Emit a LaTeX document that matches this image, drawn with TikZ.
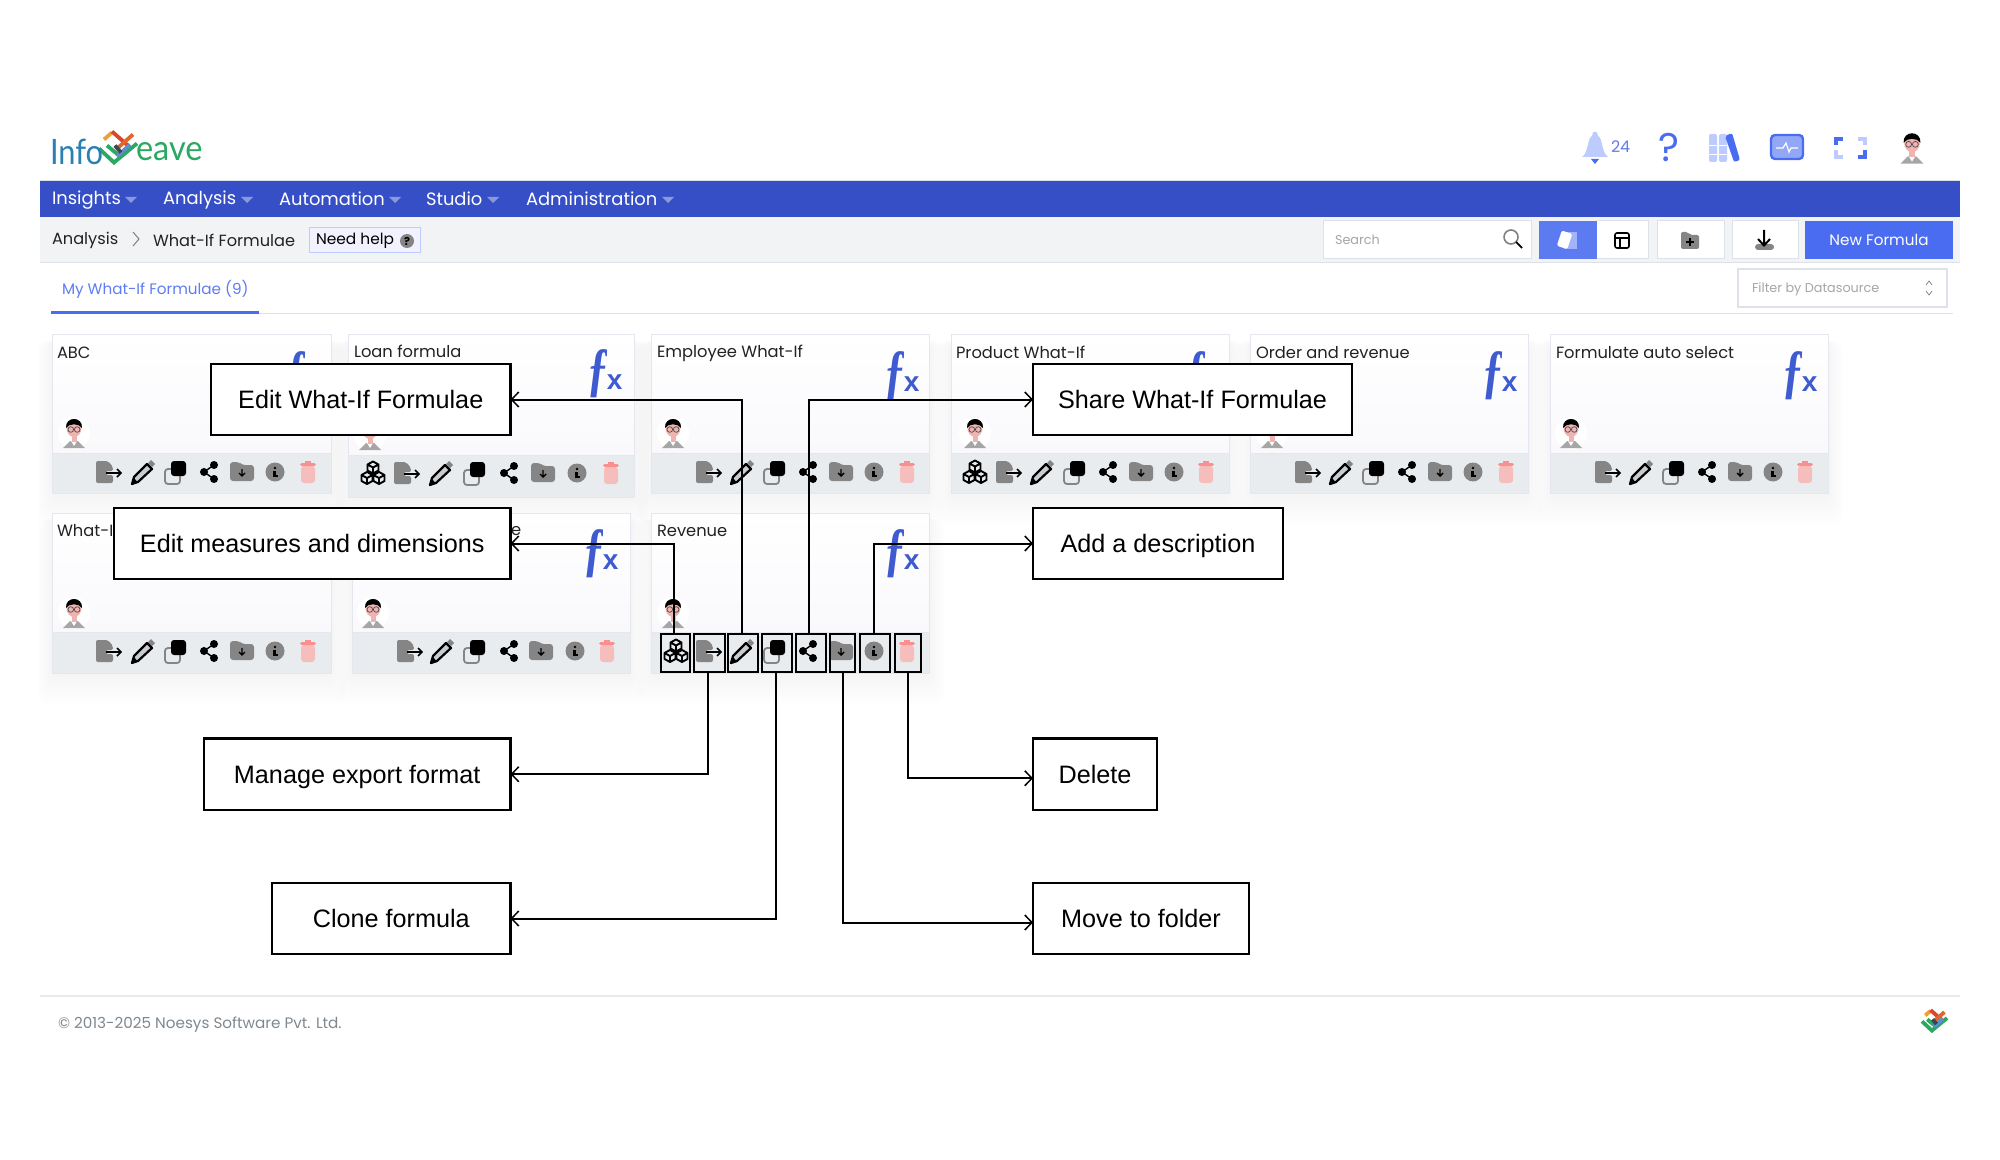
\documentclass[tikz,border=0pt]{standalone}
\usepackage{fontspec}
\setmainfont{Poppins}
\newfontfamily\callfont{Liberation Sans}
\newfontfamily\logofont{Lato}
\newfontfamily\fxserif{Liberation Serif}[ItalicFont={Liberation Serif Italic}]
\newfontfamily\fxsans{Liberation Sans}
\usetikzlibrary{arrows.meta}
\definecolor{navblue}{HTML}{364FC7}
\definecolor{caret}{HTML}{8A9AD8}
\definecolor{subbar}{HTML}{F1F3F5}
\definecolor{linegrey}{HTML}{DDE2EA}
\definecolor{brand}{HTML}{4A6CF0}
\definecolor{tabtext}{HTML}{5F7CF2}
\definecolor{brandlight}{HTML}{BDCBFF}
\definecolor{inktext}{HTML}{222222}
\definecolor{icongrey}{HTML}{858585}
\definecolor{footgrey}{HTML}{7F8890}
\definecolor{cardfoot}{HTML}{E9ECEF}
\definecolor{cardlow}{HTML}{F9F9FC}
\definecolor{fxblue}{HTML}{3F5BD0}
\definecolor{trashbody}{HTML}{F6BDBD}
\definecolor{trashlid}{HTML}{FA8F8F}
\definecolor{skin}{HTML}{EFB3B0}
\definecolor{logoblue}{HTML}{2A7FB5}
\definecolor{logogreen}{HTML}{2BA862}
\definecolor{logoorange}{HTML}{F0A030}
\definecolor{logored}{HTML}{D9452F}
\definecolor{logoredb}{HTML}{E0662A}
\definecolor{logosteel}{HTML}{5B8FD0}
\definecolor{logodark}{HTML}{3A4656}
\newcommand\pxf[1]{\fontsize{#1}{#1}\selectfont}
\tikzset{
  x=0.5pt,y=-0.5pt,
  lbl/.style={inner sep=0pt,outer sep=0pt,anchor=west,text=inktext},
  ctr/.style={inner sep=0pt,outer sep=0pt,anchor=center},
  callout/.style={draw=black,line width=1.1pt,fill=white,inner sep=0pt,outer sep=0pt,text height=9pt,text depth=0pt,font=\callfont\pxf{12.6}},
  slot/.style={draw=black,line width=1.15pt,inner sep=0pt,outer sep=0pt,minimum height=19pt},
  link/.style={draw=black,line width=1pt,-{Straight Barb[length=3.6pt,width=7.5pt,line width=.75pt]}},
  pics/expic/.style={code={
    \fill[icongrey,rounded corners=1pt] (-13,-11)--(-1,-11)--(4,-5)--(4,-1)--(-3,-1)--(-3,3)--(4,3)--(4,11)--(-13,11)--cycle;
    \draw[black,line width=.8pt] (-3,1)--(12,1) (8,-3)--(12,1)--(8,5);
  }},
  pics/penic/.style={code={
    \fill[icongrey] (5,-9)--(8,-12)--(12,-8)--(9,-5)--cycle;
    \draw[black,line width=1.1pt,line join=round,fill=cardfoot!70!gray] (4,-8)--(9,-3)--(-5,10)--(-11,12)--(-9,5)--cycle;
    \fill[black] (-11,12)--(-9,6)--(-6,9.5)--cycle;
  }},
  pics/cloneic/.style={code={
    \draw[icongrey,line width=.9pt,rounded corners=1.5pt] (-11,-3) rectangle (4,12);
    \fill[black,rounded corners=1.5pt] (-5,-11) rectangle (10,4);
  }},
  pics/shareic/.style={code={
    \draw[black,line width=.7pt] (5,-7)--(-5,0)--(5,7);
    \fill[black] (-5,0) circle[radius=4] (5,-7) circle[radius=4] (5,7) circle[radius=4];
  }},
  pics/foldic/.style={code={
    \fill[icongrey,rounded corners=1.5pt] (-12,-10)--(-3,-10)--(0,-7)--(12,-7)--(12,9)--(-12,9)--cycle;
    \draw[black,line width=.7pt] (0,-3)--(0,4) (-3,1)--(0,4)--(3,1);
  }},
  pics/infoic/.style={code={
    \fill[icongrey] (0,0) circle[radius=9.5];
    \fill[black] (0,-4) circle[radius=1.3];
    \fill[black] (-2,-1.5) rectangle (1.2,3.5);
    \fill[black] (-2.5,3.2) rectangle (2.5,5);
  }},
  pics/trashic/.style={code={
    \fill[trashbody,rounded corners=1.5pt] (-7,-6) rectangle (7,11);
    \fill[trashlid,rounded corners=.8pt] (-8,-9) rectangle (8,-6);
    \fill[trashlid] (-3,-11) rectangle (3,-9);
  }},
  cubeone/.pic={
    \draw[black,line width=.95pt,line join=round] (0,-6)--(5.5,-3)--(5.5,3)--(0,6)--(-5.5,3)--(-5.5,-3)--cycle
      (-5.5,-3)--(0,0)--(5.5,-3) (0,0)--(0,6);
  },
  pics/cubeic/.style={code={
    \pic at (0,-5.5) {cubeone};
    \pic at (-6,5) {cubeone};
    \pic at (6,5) {cubeone};
  }},
  pics/faceic/.style={code={
    \fill[white] (0,0) circle[radius=16];
    \fill[gray!70] (-11,15)--(-4,8)--(4,8)--(11,15)--cycle;
    \fill[white] (-3,8)--(3,8)--(0,13)--cycle;
    \fill[skin] (-2.5,0) rectangle (2.5,9);
    \fill[skin] (0,-5) ellipse[x radius=7.5,y radius=9];
    \fill[black] (-8,-5)..controls(-9,-17)and(9,-17)..(8,-5)..controls(5,-10)and(-5,-10)..cycle;
    \draw[black!70,line width=.35pt] (-3.2,-3.5) circle[radius=2.8] (3.2,-3.5) circle[radius=2.8];
  }},
  pics/logomark/.style={code={
    \begin{scope}[line width=1.9pt,line cap=butt]
    \draw[logogreen] (-19,2)--(-4,16)--(19,-3);
    \draw[logogreen] (-11,-1)--(1,9);
    \draw[logoorange] (-14,-7)--(-6,-14);
    \draw[logored] (-6,-15)--(11,0);
    \draw[logoredb] (15,-12)--(-2,3);
    \draw[logosteel] (-1,10)--(12,-2);
    \draw[logodark] (-3,-1)--(3,6);
    \end{scope}
  }},
}
\newcommand\cardbox[6]{% name,x1,x2,y1,yf,y2
  \foreach \i in {1,...,10}{
    \fill[black,opacity=.004,rounded corners=5pt] ({#2-1.5*\i},{#4+6}) rectangle ({#3+1.5*\i},{#6+2+3*\i});
  }
  \path[draw=linegrey!80,line width=.5pt,top color=white,bottom color=cardlow] (#2,#4) rectangle (#3,#5);
  \path[draw=linegrey!80,line width=.5pt,fill=cardfoot] (#2,#5) rectangle (#3,#6);
}
\newcommand\iconsrow[8]{% y, then x of the seven icons
  \pic at (#2,#1) {expic};
  \pic at (#3,#1) {penic};
  \pic at (#4,#1) {cloneic};
  \pic at (#5,#1) {shareic};
  \pic at (#6,#1) {foldic};
  \pic at (#7,#1) {infoic};
  \pic at (#8,#1) {trashic};
}
\newcommand\fxmark[3]{%
  \node[ctr,text=fxblue] (#1) at (#2,#3+1) {\scalebox{.72}[1]{\fxserif\itshape\bfseries\pxf{30}ƒ}\kern-1.2pt{\fxsans\bfseries\pxf{14}x}};
}
\begin{document}
\begin{tikzpicture}
\useasboundingbox (0,0) rectangle (2000,1160);
\fill[white] (0,0) rectangle (2000,1160);
% header
\pic at (118,146.5) {logomark};
\node[lbl,text=logoblue,font=\logofont\pxf{17.5}] (logoa) at (50,152) {\scalebox{.88}[1]{Info}};
\node[lbl,text=logogreen,font=\logofont\pxf{17.5}] (logob) at (136,152) {\scalebox{.93}[1]{eave}};
% top icons
\fill[brandlight] (1582,157)..controls(1589,152)and(1587,138)..(1592,136)..controls(1592,130)and(1598,130)..(1598,136)..controls(1603,138)and(1601,152)..(1608,157)--cycle;
\fill[brand] (1591,159) -- (1599,159) -- (1595,164) -- cycle;
\node[lbl,text=tabtext,font=\pxf{8}] (bellnum) at (1611,147) {24};
\node[ctr,text=brand,font=\pxf{20}] (helpq) at (1669,148) {?};
\fill[brandlight,rounded corners=1pt] (1709,134) rectangle (1717,162);
\fill[brandlight,rounded corners=1pt] (1719,134) rectangle (1727,162);
\fill[brand,rounded corners=1pt] (1725,136)--(1732,133)--(1740,160)--(1734,162)--cycle;
\draw[white,line width=.4pt] (1709,145)--(1727,145) (1709,154)--(1727,154);
\draw[brand,fill=brand!60!white,line width=1.2pt,rounded corners=2pt] (1771,135) rectangle (1803,159);
\draw[white,line width=.6pt] (1776,148)--(1783,148)--(1786,143)--(1789,152)--(1791,148)--(1798,148);
\draw[brand,line width=2pt] (1836,145)--(1836,139)--(1843,139);
\draw[brandlight,line width=2pt] (1858,139)--(1865,139)--(1865,145);
\draw[brandlight,line width=2pt] (1836,150)--(1836,157)--(1843,157);
\draw[brand,line width=2pt] (1858,157)--(1865,157)--(1865,150);
\pic[scale=1.05] at (1912,148) {faceic};
% nav bar
\fill[navblue] (40,180) rectangle (1960,217);
\draw[linegrey,line width=.4pt] (40,180)--(1960,180);
\node[lbl,text=white,font=\pxf{8.95}] (nava) at (52,200) {Insights};
\node[lbl,text=white,font=\pxf{8.95}] (navb) at (163,200) {Analysis};
\node[lbl,text=white,font=\pxf{8.95}] (navc) at (279,199) {Automation};
\node[lbl,text=white,font=\pxf{8.95}] (navd) at (426,199) {Studio};
\node[lbl,text=white,font=\pxf{8.95}] (nave) at (526,199) {Administration};
\foreach \cx in {131,247,395,493,668}{\fill[caret] (\cx-6,197)--(\cx+6,197)--(\cx,203)--cycle;}
% sub bar
\fill[subbar] (40,217) rectangle (1960,263);
\draw[linegrey,line width=.5pt] (40,263)--(1960,263);
\node[lbl,font=\pxf{8.1}] (crumba) at (52,240.5) {Analysis};
\draw[gray,line width=.5pt] (133,232)--(139,239)--(133,246);
\node[lbl,font=\pxf{8.1}] (crumbb) at (153,240.5) {What-If Formulae};
\node[draw=brandlight,fill=blue!5,line width=.5pt,inner sep=0pt,minimum width=55.5pt,minimum height=12.5pt] (helpbox) at (364.5,240.5) {};
\node[lbl,text=black,font=\pxf{7.7}] (helptxt) at (316,241) {Need help};
\node[circle,fill=icongrey,inner sep=0pt,minimum size=7pt,text=black,font=\bfseries\pxf{5.5}] (helpdot) at (407,241) {?};
\node[draw=linegrey,fill=white,line width=.5pt,inner sep=0pt,minimum width=104pt,minimum height=19pt] (searchbox) at (1427,240) {};
\node[lbl,text=gray!70,font=\pxf{6.4}] (searchtxt) at (1335,240) {Search};
\draw[gray,line width=.8pt] (1511,237) circle[radius=7];
\draw[black,line width=.9pt] (1516,242)--(1522,248);
\fill[brand!90!white] (1538.5,221) rectangle (1597,259);
\fill[white] (1597,221) rectangle (1648,259);
\draw[linegrey,line width=.5pt] (1597,221)--(1648,221)--(1648,259)--(1597,259);
\fill[brandlight!75!brand] (1564,232) rectangle (1577,249);
\fill[white,rounded corners=1pt,rotate around={-18:(1565,240)}] (1559,232) rectangle (1570,248);
\draw[black,line width=.8pt,rounded corners=1pt] (1615,233) rectangle (1629,248);
\draw[black,line width=.6pt] (1615,238)--(1629,238) (1620,238)--(1620,248);
\draw[linegrey,fill=white,line width=.5pt] (1657,221) rectangle (1724,259);
\fill[icongrey,rounded corners=1pt] (1681,232)--(1688,232)--(1690,235)--(1699,235)--(1699,249)--(1681,249)--cycle;
\draw[black,line width=.6pt] (1690,238.5)--(1690,246) (1686,242)--(1694,242);
\draw[linegrey,fill=white,line width=.5pt] (1732,221) rectangle (1798,259);
\fill[icongrey,rounded corners=1.5pt] (1755,244) rectangle (1774,250);
\draw[black,line width=1pt] (1764,230)--(1764,245) (1758,239)--(1764,245.5)--(1770,239);
\node[fill=brand,inner sep=0pt,minimum width=74pt,minimum height=19pt,text=white,font=\pxf{7.6}] (newf) at (1879,240) {New Formula};
% tab
\node[lbl,text=tabtext,font=\pxf{7.6}] (tabt) at (62,289) {My What-If Formulae (9)};
\draw[linegrey,line width=.5pt] (51,314)--(1953,314);
\draw[brand,line width=1.5pt] (51,313)--(259,313);
\node[draw=linegrey,fill=white,line width=.6pt,inner sep=0pt,minimum width=104.5pt,minimum height=19pt] (filterbox) at (1842.5,288) {};
\node[lbl,text=gray!70,font=\pxf{6.4}] (filtert) at (1752,289) {Filter by Datasource};
\draw[gray,line width=.35pt] (1926,285)--(1929,281)--(1932,285) (1926,291)--(1929,295)--(1932,291);
% cards
\cardbox{a}{52}{331}{335}{453}{493}
\cardbox{b}{348}{634}{335}{455}{497}
\cardbox{c}{651}{929}{335}{453}{493}
\cardbox{d}{951}{1229}{335}{453}{493}
\cardbox{e}{1250}{1528}{335}{453}{493}
\cardbox{f}{1550}{1828}{335}{453}{493}
\cardbox{g}{52}{331}{513}{632}{673}
\cardbox{h}{352}{630}{513}{632}{673}
\cardbox{i}{651}{929}{513}{632}{673}
\node[lbl,font=\pxf{8.15}] (ta) at (57,353) {ABC};
\node[lbl,font=\pxf{8.15}] (tb) at (354,351) {Loan formula};
\node[lbl,font=\pxf{8.15}] (tc) at (657,353.5) {Employee What-If};
\node[lbl,font=\pxf{8.15}] (td) at (956,352.5) {Product What-If};
\node[lbl,font=\pxf{8.15}] (te) at (1256,353) {Order and revenue};
\node[lbl,font=\pxf{8.15}] (tf) at (1556,353) {Formulate auto select};
\node[lbl,font=\pxf{8.15}] (tg) at (57,531) {What-I};
\node[lbl,font=\pxf{8.15}] (th) at (511,531) {e};
\node[lbl,font=\pxf{8.15}] (ti) at (657,531) {Revenue};
\fxmark{fa}{303}{375}
\fxmark{fb}{605}{373}
\fxmark{fc}{902}{375}
\fxmark{fd}{1203}{375}
\fxmark{fe}{1500}{375}
\fxmark{ff}{1800}{375}
\fxmark{fh}{601}{553}
\fxmark{fi}{902}{553}
\pic at (74,433) {faceic};
\pic at (370,435) {faceic};
\pic at (673,433) {faceic};
\pic at (975,433) {faceic};
\pic at (1272,433) {faceic};
\pic at (1571,433) {faceic};
\pic at (74,613) {faceic};
\pic at (373,613) {faceic};
\pic at (673,613) {faceic};
\pic at (373,473) {cubeic};
\pic at (975,472) {cubeic};
\pic at (676,651) {cubeic};
\iconsrow{472}{109}{143}{176}{209}{242}{275}{308}
\iconsrow{473}{407}{441}{475}{509}{543}{577}{611}
\iconsrow{472}{709}{742}{775}{808}{841}{874}{907}
\iconsrow{472}{1009}{1042}{1075}{1108}{1141}{1174}{1206}
\iconsrow{472}{1308}{1341}{1374}{1407}{1440}{1473}{1506}
\iconsrow{472}{1608}{1641}{1674}{1707}{1740}{1773}{1805}
\iconsrow{651}{109}{143}{176}{209}{242}{275}{308}
\iconsrow{651}{410}{442}{475}{509}{541}{575}{607}
\iconsrow{651}{709}{742}{775}{808}{841}{874}{907}
% footer
\draw[linegrey!70,line width=.7pt] (40,996)--(1960,996);
\node[lbl,text=footgrey,font=\pxf{7.6}] (foot) at (58,1025) {© 2013-2025 Noesys Software Pvt. Ltd.};
\pic[scale=.66] at (1934.5,1020) {logomark};
% highlight slots
\node[slot,minimum width=14.5pt] (scube) at (675.5,653) {};
\node[slot,minimum width=15.5pt] (sexp) at (709.5,653) {};
\node[slot,minimum width=15pt] (spen) at (743,653) {};
\node[slot,minimum width=15pt] (sclone) at (777,653) {};
\node[slot,minimum width=15pt] (sshare) at (811,653) {};
\node[slot,minimum width=12.5pt] (sfold) at (842.5,653) {};
\node[slot,minimum width=15pt] (sinfo) at (875,653) {};
\node[slot,minimum width=13pt] (strash) at (908,653) {};
% callouts
\node[callout,minimum width=149.75pt,minimum height=35.5pt] (cedit) at (360.75,399.5) {Edit What-If Formulae};
\node[callout,minimum width=198.25pt,minimum height=35.5pt] (cmeas) at (312.25,543.5) {Edit measures and dimensions};
\node[callout,minimum width=159.5pt,minimum height=35.5pt] (cshare) at (1192.5,399.5) {Share What-If Formulae};
\node[callout,minimum width=125pt,minimum height=35.5pt] (cdesc) at (1158,543.5) {Add a description};
\node[callout,minimum width=153.25pt,minimum height=35.75pt] (cexport) at (357.25,774.25) {Manage export format};
\node[callout,minimum width=119.25pt,minimum height=35.5pt] (cclone) at (391.25,918.5) {Clone formula};
\node[callout,minimum width=62pt,minimum height=35.75pt] (cdel) at (1095,774.25) {Delete};
\node[callout,minimum width=108pt,minimum height=35.5pt] (cmove) at (1141,918.5) {Move to folder};
% connectors
\draw[link] ([xshift=-.75pt]scube.north) |- (cmeas.east);
\draw[link] ([xshift=-.5pt]spen.north) |- (cedit.east);
\draw[link] ([xshift=-1pt]sshare.north) |- (cshare.west);
\draw[link] ([xshift=-.5pt]sinfo.north) |- (cdesc.west);
\draw[link] ([xshift=-.75pt]sexp.south) |- (cexport.east);
\draw[link] ([xshift=-.5pt]sclone.south) |- (cclone.east);
\draw[link] (sfold.south) |- ([yshift=-2pt]cmove.west);
\draw[link] (strash.south) |- ([yshift=-2pt]cdel.west);
\end{tikzpicture}
\end{document}
